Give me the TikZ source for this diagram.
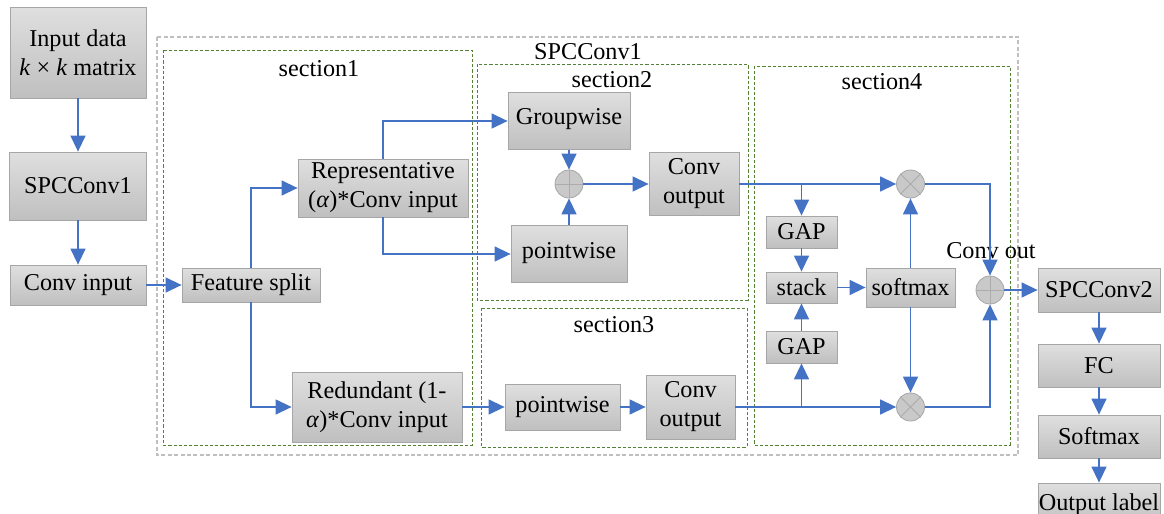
\documentclass[tikz,border=0pt]{standalone}
\usepackage{fontspec}
\setmainfont{Liberation Serif}
\usepackage{tikz}
\usetikzlibrary{arrows.meta,positioning,calc}
\definecolor{arrblue}{RGB}{68,114,196}
\definecolor{secgreen}{RGB}{84,130,53}

\begin{document}
\begin{tikzpicture}[x=0.5pt, y=-0.5pt,
  font=\fontsize{12.1}{14.5}\selectfont,
  box/.style={draw=gray!70, top color=gray!25, bottom color=gray!50, inner sep=0pt, align=center},
  sum/.style={circle, draw=gray!70, fill=gray!42, minimum size=14pt, inner sep=0pt},
  crs/.style={draw=gray!65, line width=0.5pt},
  arr/.style={-{Triangle[length=8pt, width=7.5pt]}, draw=arrblue, line width=0.7pt},
  secframe/.style={draw=secgreen, dash pattern=on 1.6pt off 1pt, line width=0.5pt},
  outframe/.style={draw=gray!50, dash pattern=on 2pt off 1.2pt, line width=0.6pt}]
\clip (0,0) rectangle (1164,514);
% 枠
\draw[outframe] (157,37) rectangle (1018,455);
\draw[secframe] (163,50) rectangle (472,445);
\draw[secframe] (477,64) rectangle (748,300);
\draw[secframe] (481,308) rectangle (747,447);
\draw[secframe] (754,66) rectangle (1010,445);
\node (tspc) at (588,52) {SPCConv1};
\node (tsec1) at (319,69) {section1};
\node (tsec2) at (612,80) {section2};
\node (tsec3) at (614,325) {section3};
\node (tsec4) at (882,82) {section4};
% 入力側
\node[box, minimum width=68pt, minimum height=45.5pt] (in) at (78,52.5) {Input data\\\textit{k} × \textit{k} matrix};
\node[box, minimum width=68.5pt, minimum height=34pt] (spc1) at (78,186) {SPCConv1};
\node[box, minimum width=68pt, minimum height=20pt] (cin) at (78,285) {Conv input};
% section1
\node[box, minimum width=69pt, minimum height=17pt] (split) at (251,285) {Feature split};
\node[box, minimum width=85pt, minimum height=29pt] (rep) at (383,188) {Representative\\(\textit{α})*Conv input};
\node[box, minimum width=85pt, minimum height=35pt] (red) at (377,407) {Redundant (1-\\\textit{α})*Conv input};
% section2
\node[box, minimum width=61pt, minimum height=28.5pt] (grp) at (569,121) {\raisebox{5pt}{Groupwise}};
\node[box, minimum width=58pt, minimum height=28.5pt] (pw2) at (569,254) {\raisebox{4pt}{pointwise}};
\node[sum] (add2) at (569,184) {};
\node[box, minimum width=45pt, minimum height=31.5pt] (co2) at (694,184) {Conv\\output};
% section3
\node[box, minimum width=57.5pt, minimum height=23pt] (pw3) at (562.5,407) {\raisebox{2pt}{pointwise}};
\node[box, minimum width=44.5pt, minimum height=32pt] (co3) at (690.5,407) {Conv\\output};
% section4
\node[box, minimum width=35.5pt, minimum height=16pt] (gap1) at (801.5,232) {GAP};
\node[box, minimum width=35.5pt, minimum height=15.5pt] (stk) at (801.5,287.5) {stack};
\node[box, minimum width=35.5pt, minimum height=16pt] (gap2) at (801.5,347) {GAP};
\node[box, minimum width=44.5pt, minimum height=19.5pt] (smx) at (910.5,287.5) {softmax};
\node[sum] (mul1) at (910.5,184) {};
\node[sum] (mul2) at (910.5,407) {};
\node[sum] (add4) at (990,290) {};
\node (convout) at (991,251) {Conv out};
% 出力側
\node[box, minimum width=61pt, minimum height=22pt] (spc2) at (1099,290) {SPCConv2};
\node[box, minimum width=61pt, minimum height=21.5pt] (fc) at (1099,365.5) {FC};
\node[box, minimum width=61pt, minimum height=21.5pt] (smx2) at (1099,436.5) {Softmax};
\node[box, minimum width=61pt, minimum height=21.5pt] (out) at (1099,504.5) {Output label};
% 記号
\foreach \c in {add2,add4}
  \draw[crs] (\c.north) -- (\c.south) (\c.west) -- (\c.east);
\foreach \c in {mul1,mul2}
  \draw[crs] (\c.north east) -- (\c.south west) (\c.north west) -- (\c.south east);
% 矢印
\draw[arr] (in) -- (spc1);
\draw[arr] (spc1) -- (cin);
\draw[arr] (cin) -- (split);
\draw[arr] (split.north) |- (rep.west);
\draw[arr] (split.south) |- (red.west);
\draw[arr] (rep.north) |- (grp.west);
\draw[arr] (rep.south) |- (pw2.west);
\draw[arr] (grp) -- (add2);
\draw[arr] (pw2) -- (add2);
\draw[arr] (add2) -- (co2);
\draw[arr] (red) -- (pw3);
\draw[arr] (pw3) -- (co3);
\draw[arr] (co2) -- (mul1);
\draw[arr] (co3) -- (mul2);
\coordinate (b1) at (gap1.north |- co2.east);
\coordinate (b2) at (gap2.south |- co3.east);
\draw[arr] (b1) -- (gap1);
\draw[arr] (b2) -- (gap2);
\draw[arr] (gap1) -- (stk);
\draw[arr] (gap2) -- (stk);
\draw[arr] (stk) -- (smx);
\draw[arr] (smx) -- (mul1);
\draw[arr] (smx) -- (mul2);
\draw[arr] (mul1.east) -| (add4.north);
\draw[arr] (mul2.east) -| (add4.south);
\draw[arr] (add4) -- (spc2);
\draw[arr] (spc2) -- (fc);
\draw[arr] (fc) -- (smx2);
\draw[arr] (smx2) -- (out);
\end{tikzpicture}
\end{document}
